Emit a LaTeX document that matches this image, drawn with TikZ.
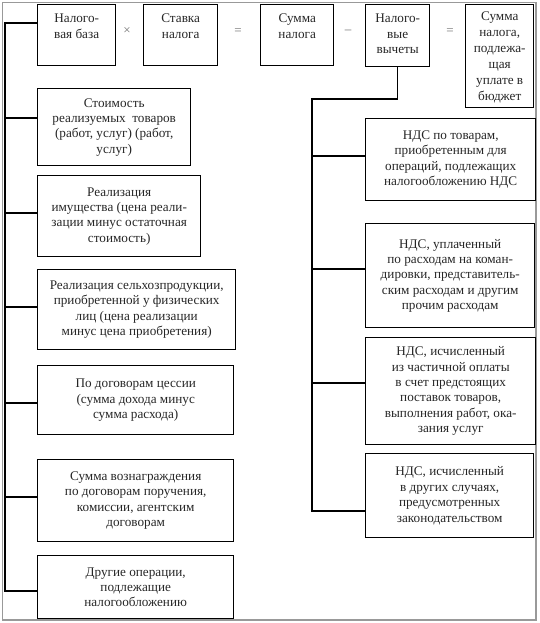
\documentclass[tikz,border=0pt]{standalone}
\usepackage{fontspec}
\setmainfont{Liberation Serif}
\begin{document}
\begin{tikzpicture}[x=1pt,y=-1pt,
  box/.style={draw=black, line width=1.4pt, inner sep=0pt, anchor=north west},
  txt/.style={font=\fontsize{13.2}{15.4}\selectfont, align=center, inner sep=0pt, text=black!85},
  ttxt/.style={txt, anchor=north},
  op/.style={font=\fontsize{13}{15}\selectfont, text=black!55, inner sep=0pt},
  conn/.style={draw=black, line width=1.4pt},
  frame/.style={draw=black!40, line width=1.2pt}]
\useasboundingbox (0,0) rectangle (539,623);
\draw[frame] (2.5,2.5) rectangle (536,620);

% top row
\node[box, minimum width=78pt, minimum height=61pt] (nb) at (37,4) {};
\node[ttxt] (nbt) at ([yshift=-10pt]nb.north) {Налого-\\вая база};
\node[box, minimum width=74pt, minimum height=61pt] (sn) at (143,4) {};
\node[ttxt] (snt) at ([yshift=-10pt]sn.north) {Ставка\\налога};
\node[box, minimum width=73pt, minimum height=61pt] (sm) at (260,4) {};
\node[ttxt] (smt) at ([yshift=-10pt]sm.north) {Сумма\\налога};
\node[box, minimum width=64pt, minimum height=62pt] (nv) at (365,4) {};
\node[ttxt] (nvt) at ([yshift=-10pt]nv.north) {Налого-\\вые\\вычеты};
\node[box, minimum width=68pt, minimum height=103pt] (sb) at (465,4) {};
\node[ttxt, font=\fontsize{13.2}{16}\selectfont] (sbt) at ([yshift=-8pt]sb.north) {Сумма\\налога,\\подлежа-\\щая\\уплате в\\бюджет};

\node[op] (o1) at (127,31) {×};
\node[op] (o2) at (238,32) {=};
\node[op] (o3) at (348,32) {–};
\node[op] (o4) at (450,32) {=};

% left column
\node[box, minimum width=153pt, minimum height=77pt] (l1) at (37,88) {};
\node[txt] at (l1.center) {Стоимость\\реализуемых\enspace товаров\\(работ, услуг) (работ,\\услуг)};
\node[box, minimum width=163pt, minimum height=81pt] (l2) at (37,175) {};
\node[txt] at (l2.center) {Реализация\\имущества (цена реали-\\зации минус остаточная\\стоимость)};
\node[box, minimum width=198pt, minimum height=80pt] (l3) at (37,269) {};
\node[txt] at (l3.center) {Реализация сельхозпродукции,\\приобретенной у физических\\лиц (цена реализации\\минус цена приобретения)};
\node[box, minimum width=196pt, minimum height=69pt] (l4) at (37,365) {};
\node[txt] at (l4.center) {По договорам цессии\\(сумма дохода минус\\сумма расхода)};
\node[box, minimum width=196pt, minimum height=82pt] (l5) at (37,459) {};
\node[txt] at (l5.center) {Сумма вознаграждения\\по договорам поручения,\\комиссии, агентским\\договорам};
\node[box, minimum width=196pt, minimum height=63pt] (l6) at (37,555) {};
\node[txt] at (l6.center) {Другие операции,\\подлежащие\\налогообложению};

% right column
\node[box, minimum width=170pt, minimum height=82pt] (r1) at (365,118) {};
\node[txt] at (r1.center) {НДС по товарам,\\приобретенным для\\операций, подлежащих\\налогообложению НДС};
\node[box, minimum width=169pt, minimum height=104pt] (r2) at (365,223) {};
\node[txt] at (r2.center) {НДС, уплаченный\\по расходам на коман-\\дировки, представитель-\\ским расходам и другим\\прочим расходам};
\node[box, minimum width=170pt, minimum height=107pt] (r3) at (365,337) {};
\node[txt] at (r3.center) {НДС, исчисленный\\из частичной оплаты\\в счет предстоящих\\поставок товаров,\\выполнения работ, ока-\\зания услуг};
\node[box, minimum width=168pt, minimum height=84pt] (r4) at (365,453) {};
\node[txt] at (r4.center) {НДС, исчисленный\\в других случаях,\\предусмотренных\\законодательством};

% left spine
\coordinate (ls0) at (5,23);
\coordinate (ls1) at (5,118);
\coordinate (ls2) at (5,213);
\coordinate (ls3) at (5,307);
\coordinate (ls4) at (5,403);
\coordinate (ls5) at (5,497);
\coordinate (ls6) at (5,591);
\draw[conn] (nb.west |- ls0) -- (ls0) -- (ls6) -- (l6.west |- ls6);
\draw[conn] (ls1) -- (l1.west |- ls1);
\draw[conn] (ls2) -- (l2.west |- ls2);
\draw[conn] (ls3) -- (l3.west |- ls3);
\draw[conn] (ls4) -- (l4.west |- ls4);
\draw[conn] (ls5) -- (l5.west |- ls5);

% right spine
\coordinate (rs0) at (312,99);
\coordinate (rs1) at (312,156);
\coordinate (rs2) at (312,269);
\coordinate (rs3) at (312,383);
\coordinate (rs4) at (312,511);
\draw[conn] (nv.south) -- (nv.south |- rs0) -- (rs0) -- (rs4) -- (r4.west |- rs4);
\draw[conn] (rs1) -- (r1.west |- rs1);
\draw[conn] (rs2) -- (r2.west |- rs2);
\draw[conn] (rs3) -- (r3.west |- rs3);
\end{tikzpicture}
\end{document}
